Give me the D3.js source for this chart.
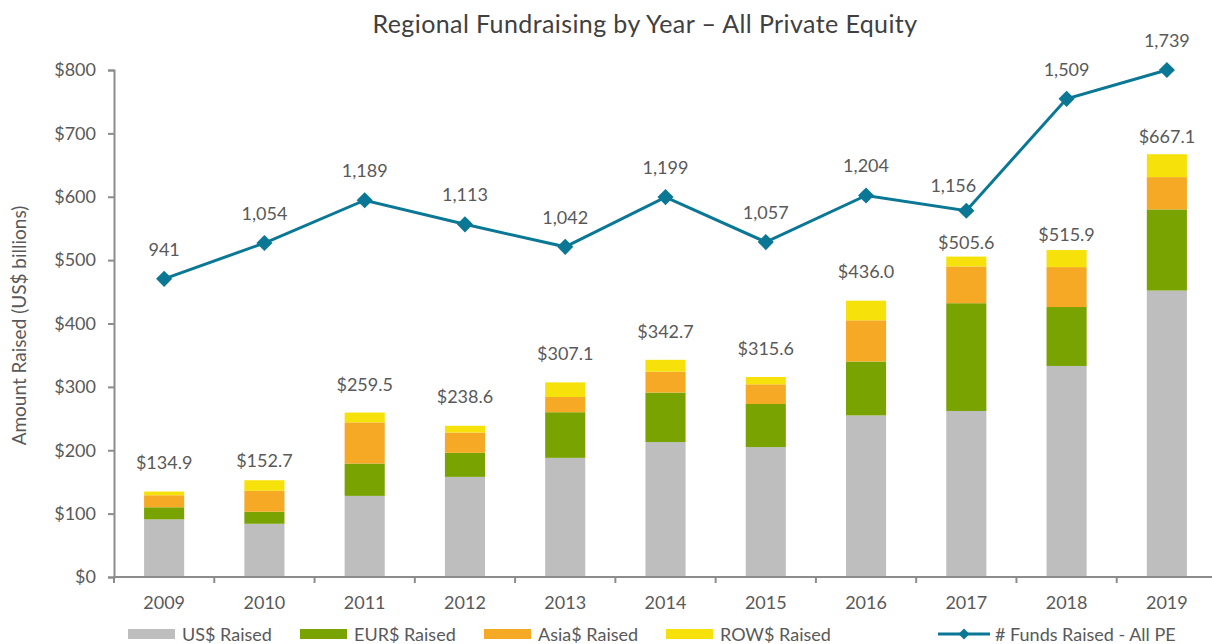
<!DOCTYPE html>
<html>
<head>
<meta charset="utf-8">
<script src="https://cdn.jsdelivr.net/npm/d3@7"></script>
<style>
  body { margin: 0; background: #fff; }
  svg text { font-family: Lato, "Open Sans", sans-serif; fill: #595959; }
</style>
</head>
<body>
<svg id="chart"></svg>
<script>
// data
const years = ['2009', '2010', '2011', '2012', '2013', '2014', '2015', '2016', '2017', '2018', '2019']
const usRaised = [91, 84, 128, 158, 188, 213, 205, 255, 262, 333, 452]
const eurRaised = [19, 19, 51, 38, 72, 78, 68, 85, 170, 93, 128]
const asiaRaised = [19, 33, 65, 32, 24, 33, 31, 65, 58, 63, 51]
const rowRaised = [5.9, 16.7, 15.5, 10.6, 23.1, 18.7, 11.6, 31, 15.6, 26.9, 36.1]
const totals = [134.9, 152.7, 259.5, 238.6, 307.1, 342.7, 315.6, 436.0, 505.6, 515.9, 667.1]
const fundsCount = [941, 1054, 1189, 1113, 1042, 1199, 1057, 1204, 1156, 1509, 1739]
const yTicks = [0, 100, 200, 300, 400, 500, 600, 700, 800]

const seriesNames = ['US$ Raised', 'EUR$ Raised', 'Asia$ Raised', 'ROW$ Raised']
const seriesColors = ['#bdbebd', '#78a300', '#f5a924', '#f6e20a']
const lineColor = '#0a7895'
const lineName = '# Funds Raised - All PE'

// label lifts (px above bar top) - excel had some moved by hand
const totalLift = [30, 20, 29, 30, 29, 29, 29, 30, 15, 16, 18]

const width = 1212, height = 644
const margin = { top: 70, left: 114, bottom: 67 }
const plotRight = 1217
const fs = '18px'

const svg = d3.select('#chart').attr('width', width).attr('height', height)

const x = d3.scaleBand().domain(years).range([margin.left, plotRight]).paddingInner(0.6).paddingOuter(0.3)
const y = d3.scaleLinear().domain([0, 800]).range([height - margin.bottom, margin.top])
// funds count sits on a hidden secondary axis, capped at the top
const y2 = d3.scaleLinear().domain([0, 1600]).range([height - margin.bottom, margin.top]).clamp(true)

const rows = years.map((yr, i) => ({
  year: yr, us: usRaised[i], eur: eurRaised[i], asia: asiaRaised[i], row: rowRaised[i]
}))
const keys = ['us', 'eur', 'asia', 'row']
const stacked = d3.stack().keys(keys)(rows)

// title
svg.append('text')
  .attr('x', 645).attr('y', 33)
  .attr('text-anchor', 'middle')
  .style('font-size', '25px')
  .style('letter-spacing', '0.4px')
  .style('fill', '#404040')
  .text('Regional Fundraising by Year – All Private Equity')

// y axis
const yAxis = svg.append('g')
  .attr('transform', `translate(${margin.left},0)`)
  .call(d3.axisLeft(y).tickValues(yTicks).tickSize(6).tickPadding(12).tickFormat(d => '$' + d))
yAxis.select('.domain').attr('stroke', '#8c8c8c').attr('stroke-width', 2)
yAxis.selectAll('.tick line').attr('stroke', '#8c8c8c').attr('stroke-width', 2)
yAxis.selectAll('.tick text').style('font-size', fs).style('fill', '#595959')

svg.append('text')
  .attr('transform', `translate(26,${y(400) + 2}) rotate(-90)`)
  .attr('text-anchor', 'middle')
  .style('font-size', '19px')
  .text('Amount Raised (US$ billions)')

// bars
svg.append('g').selectAll('g')
  .data(stacked)
  .join('g')
  .attr('fill', (d, i) => seriesColors[i])
  .selectAll('rect')
  .data(d => d)
  .join('rect')
  .attr('x', d => x(d.data.year))
  .attr('width', x.bandwidth())
  .attr('y', d => y(d[1]))
  .attr('height', d => y(d[0]) - y(d[1]))

// x axis
const xAxisY = y(0)
const xg = svg.append('g')
xg.append('line')
  .attr('x1', margin.left).attr('x2', plotRight)
  .attr('y1', xAxisY).attr('y2', xAxisY)
  .attr('stroke', '#8c8c8c').attr('stroke-width', 2)
const step = x.step()
const boundaries = d3.range(years.length + 1).map(i => margin.left + i * step)
xg.selectAll('.xtick')
  .data(boundaries)
  .join('line')
  .attr('class', 'xtick')
  .attr('x1', d => d).attr('x2', d => d)
  .attr('y1', xAxisY).attr('y2', xAxisY + 6)
  .attr('stroke', '#8c8c8c').attr('stroke-width', 2)
xg.selectAll('.xlabel')
  .data(years)
  .join('text')
  .attr('class', 'xlabel')
  .attr('x', d => x(d) + x.bandwidth() / 2)
  .attr('y', xAxisY + 32)
  .attr('text-anchor', 'middle')
  .style('font-size', fs)
  .text(d => d)

// total labels
svg.append('g').selectAll('text')
  .data(totals)
  .join('text')
  .attr('x', (d, i) => x(years[i]) + x.bandwidth() / 2)
  .attr('y', (d, i) => y(d) - totalLift[i] + 7)
  .attr('text-anchor', 'middle')
  .style('font-size', fs)
  .text(d => '$' + d.toFixed(1))

// funds line
const cx = i => x(years[i]) + x.bandwidth() / 2
const line = d3.line().x((d, i) => cx(i)).y(d => y2(d))
svg.append('path')
  .datum(fundsCount)
  .attr('d', line)
  .attr('fill', 'none')
  .attr('stroke', lineColor)
  .attr('stroke-width', 3)

// excel diamond = square turned 45deg
svg.append('g').selectAll('path')
  .data(fundsCount)
  .join('path')
  .attr('transform', (d, i) => `translate(${cx(i)},${y2(d)}) rotate(45)`)
  .attr('d', d3.symbol().type(d3.symbolSquare).size(130))
  .attr('fill', lineColor)

svg.append('g').selectAll('text')
  .data(fundsCount)
  .join('text')
  .attr('x', (d, i) => cx(i) + (years[i] === '2017' ? -13 : 0))
  .attr('y', (d, i) => y2(d) - (years[i] === '2017' ? 26 : 30) + 7)
  .attr('text-anchor', 'middle')
  .style('font-size', fs)
  .text(d => d3.format(',')(d))

// legend
const legendY = 634
const legendX = [128, 300, 484, 666]
const legend = svg.append('g')
seriesNames.forEach((name, i) => {
  legend.append('rect')
    .attr('x', legendX[i]).attr('y', legendY - 5)
    .attr('width', 47).attr('height', 10)
    .attr('fill', seriesColors[i])
  legend.append('text')
    .attr('x', legendX[i] + 54).attr('y', legendY + 7)
    .style('font-size', fs)
    .text(name)
})
legend.append('line')
  .attr('x1', 938).attr('x2', 990)
  .attr('y1', legendY).attr('y2', legendY)
  .attr('stroke', lineColor).attr('stroke-width', 3)
legend.append('path')
  .attr('transform', `translate(964,${legendY}) rotate(45)`)
  .attr('d', d3.symbol().type(d3.symbolSquare).size(60))
  .attr('fill', lineColor)
legend.append('text')
  .attr('x', 995).attr('y', legendY + 7)
  .style('font-size', fs)
  .text(lineName)
</script>
</body>
</html>
